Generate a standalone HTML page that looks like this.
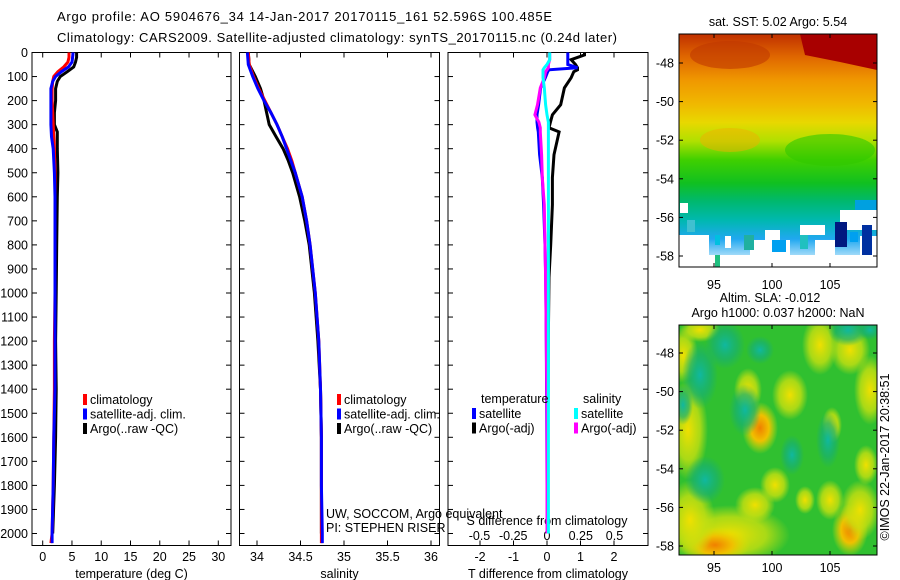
<!DOCTYPE html>
<html><head><meta charset="utf-8">
<style>
html,body{margin:0;padding:0;background:#fff;}
svg{display:block;font-family:"Liberation Sans",sans-serif;}
text{fill:#000;}
</style></head>
<body>
<svg id="fig" width="900" height="580" viewBox="0 0 900 580" xmlns="http://www.w3.org/2000/svg">
<defs>
<linearGradient id="sstg" x1="0" y1="0" x2="0" y2="1">
<stop offset="0" stop-color="#c03000"/>
<stop offset="0.1" stop-color="#e06800"/>
<stop offset="0.2" stop-color="#f09800"/>
<stop offset="0.3" stop-color="#f0b800"/>
<stop offset="0.38" stop-color="#e8d800"/>
<stop offset="0.46" stop-color="#b0e000"/>
<stop offset="0.54" stop-color="#40d000"/>
<stop offset="0.64" stop-color="#10c020"/>
<stop offset="0.72" stop-color="#00b870"/>
<stop offset="0.8" stop-color="#00b8b0"/>
<stop offset="0.88" stop-color="#20a8f0"/>
<stop offset="1" stop-color="#ffffff"/>
</linearGradient>
<radialGradient id="by"><stop offset="0" stop-color="#f0e000"/><stop offset="0.6" stop-color="#c8e010" stop-opacity="0.8"/><stop offset="1" stop-color="#c8e010" stop-opacity="0"/></radialGradient>
<radialGradient id="bo"><stop offset="0" stop-color="#f08000"/><stop offset="0.5" stop-color="#f0c000"/><stop offset="1" stop-color="#e0e000" stop-opacity="0"/></radialGradient>
<radialGradient id="bt"><stop offset="0" stop-color="#10b8a0"/><stop offset="0.6" stop-color="#18b070" stop-opacity="0.7"/><stop offset="1" stop-color="#18b070" stop-opacity="0"/></radialGradient>
<clipPath id="m2clip"><rect x="679" y="325" width="198" height="230"/></clipPath>
<clipPath id="m1clip"><rect x="679" y="34" width="198" height="233"/></clipPath>
</defs>
<text x="57" y="21" font-size="13" textLength="495">Argo profile: AO 5904676_34 14-Jan-2017 20170115_161 52.596S 100.485E</text>
<text x="57" y="42" font-size="13" textLength="560">Climatology: CARS2009. Satellite-adjusted climatology: synTS_20170115.nc (0.24d later)</text>
<g id="panels"></g>
<g id="maps"></g>
</svg>
<script>
// ---- shared depth axis ----
const depthTicks = [0,100,200,300,400,500,600,700,800,900,1000,1100,1200,1300,1400,1500,1600,1700,1800,1900,2000];
// ---- temperature panel data ----
const tDepth = [0,20,40,60,80,100,120,150,200,250,300,350,400,500,600,800,1000,1200,1400,1600,1800,2000,2040];
const tClim  = [4.5,4.5,4.3,3.6,2.6,1.9,1.7,1.6,1.6,1.7,1.8,1.9,2.0,2.1,2.1,2.1,2.1,2.0,2.0,1.9,1.8,1.6,1.4];
const tSat   = [5.2,5.1,5.0,4.4,3.2,2.2,1.7,1.4,1.4,1.4,1.4,1.5,1.8,2.0,2.1,2.1,2.1,2.1,2.1,1.9,1.8,1.6,1.6];
const tArgo  = [5.8,5.8,5.6,5.3,4.2,3.0,2.5,2.2,2.2,2.0,2.0,2.5,2.5,2.6,2.5,2.4,2.3,2.2,2.3,2.2,2.0,1.7];
const tArgoDepth = [0,20,40,60,80,100,120,150,200,250,300,330,400,500,600,800,1000,1200,1400,1600,1800,2000];
const tTicks = [0,5,10,15,20,25,30];
// ---- salinity panel data ----
const sDepth = [0,50,100,150,200,250,300,350,400,450,500,600,700,800,900,1000,1200,1400,1600,1800,2000,2040];
const sClim  = [33.90,33.91,33.96,34.02,34.09,34.16,34.23,34.29,34.35,34.40,34.44,34.52,34.57,34.61,34.64,34.67,34.71,34.73,34.74,34.74,34.74,34.74];
const sSat   = [33.89,33.90,33.95,34.01,34.08,34.16,34.23,34.29,34.34,34.39,34.44,34.52,34.57,34.61,34.64,34.67,34.71,34.73,34.74,34.74,34.75,34.75];
const sArgo  = [33.90,33.91,33.98,34.04,34.08,34.11,34.14,34.22,34.30,34.36,34.41,34.49,34.55,34.60,34.63,34.66,34.70,34.73,34.74,34.74,34.74];
const sArgoDepth = [0,50,100,150,200,250,300,350,400,450,500,600,700,800,900,1000,1200,1400,1600,1800,2000];
const sTicks = [34,34.5,35,35.5,36];
const sTickLabels = ["34","34.5","35","35.5","36"];
// ---- difference panel data ----
const dDepth = [0,10,30,50,63,72,80,105,147,217,259,290,313,330,425,520,633,800,935,1200,1500,1800,2000];
const dTArgo = [1.12,1.12,0.72,0.85,0.91,0.91,0.8,0.72,0.52,0.41,0.16,0.1,0.06,0.36,0.21,0.16,0.16,0.11,0.06,0.04,0.03,0.02,0.02];
const dTSat  = [0.62,0.62,0.62,0.62,0.91,0.06,0.02,-0.05,-0.19,-0.25,-0.3,-0.3,-0.28,-0.26,-0.22,-0.14,-0.1,-0.06,-0.04,-0.02,-0.01,0,0];
const dSSat  = [0.02,0.02,0.02,0.0,-0.02,-0.03,-0.03,-0.03,-0.02,-0.01,0.0,0.01,0.01,0.01,0.01,0.01,0.01,0.01,0.01,0.01,0.01,0.01,0.01];
const dSArgo = [0.02,0.02,0.02,0.01,0.01,0.0,-0.01,-0.02,-0.05,-0.07,-0.09,-0.06,-0.05,-0.05,-0.04,-0.035,-0.02,-0.015,-0.01,-0.005,0,0,0];
const dTTicks = [-2,-1,0,1,2];
const dSTicks = [-0.5,-0.25,0,0.25,0.5];
const dSTickLabels = ["-0.5","-0.25","0","0.25","0.5"];
// ---- map axes ----
const latTicks = [-48,-50,-52,-54,-56,-58];
const lonTicks = [95,100,105];

const NS = "http://www.w3.org/2000/svg";
const panels = document.getElementById('panels');
const maps = document.getElementById('maps');
function mk(tag, attrs, parent){ const e=document.createElementNS(NS,tag); for(const k in attrs) e.setAttribute(k,attrs[k]); parent.appendChild(e); return e; }
function txt(x,y,s,size,anchor,parent){ const t=mk('text',{x:x,y:y,'font-size':size,'text-anchor':anchor||'start'},parent); t.textContent=s; return t; }

const Y0=52.5, KY=0.2405, YB=545.5;
const yD = d => Y0 + d*KY;

function panel(name,x0,x1,xs,ticks,labels,title,showDepth){
  const g=mk('g',{},panels);
  
  
  const r=mk('rect',{x:x0,y:Y0,width:x1-x0,height:YB-Y0,fill:'none',stroke:'#000','stroke-width':1},g);
  
  
  ticks.forEach((v,i)=>{
    const x=xs(v);
    mk('line',{x1:x,x2:x,y1:YB,y2:YB-5,stroke:'#000'},g);
    mk('line',{x1:x,x2:x,y1:Y0,y2:Y0+5,stroke:'#000'},g);
    if(labels){ const t=txt(x,561,labels[i],12.5,'middle',g);
      
       }
  });
  depthTicks.forEach(d=>{
    const y=yD(d);
    mk('line',{x1:x0,x2:x0+5,y1:y,y2:y,stroke:'#000'},g);
    mk('line',{x1:x1,x2:x1-5,y1:y,y2:y,stroke:'#000'},g);
    if(showDepth){ const t=txt(28,y+4.5,String(d),12.5,'end',g);
      
       }
  });
  const tt=txt((x0+x1)/2,578,title,12.5,'middle',g);
  
  
  return g;
}
function line(g,depths,vals,xs,color,w,name){
  const pts=vals.map((v,i)=>xs(v).toFixed(1)+','+yD(depths[i]).toFixed(1)).join(' ');
  const p=mk('polyline',{points:pts,fill:'none',stroke:color,'stroke-width':w,'stroke-linejoin':'miter'},g);
  
  
}
function legend(g,x,y,items){
  items.forEach((it,i)=>{
    const yy=y+i*14.5;
    mk('rect',{x:x,y:yy-5,width:4,height:11,fill:it[0]},g);
    const t=txt(x+7,yy+5,it[1],12.5,'start',g);
    
    
  });
}

// temperature
const xT = v => 42.7 + v*5.853;
const gT = panel('temperature',32,231,xT,tTicks,tTicks.map(String),'temperature (deg C)',true);
line(gT,tArgoDepth,tArgo,xT,'#000',3,'temp-argo-line');
line(gT,tDepth,tClim,xT,'#f00',3,'temp-climatology-line');
line(gT,tDepth,tSat,xT,'#00f',3,'temp-satellite-line');
legend(gT,83,399,[['#f00','climatology'],['#00f','satellite-adj. clim.'],['#000','Argo(..raw -QC)']]);

// salinity
const xS = v => 257 + (v-34)*87;
const gS = panel('salinity',239.5,439.5,xS,sTicks,sTickLabels,'salinity',false);
line(gS,sArgoDepth,sArgo,xS,'#000',3,'sal-argo-line');
line(gS,sDepth,sClim,xS,'#f00',3,'sal-climatology-line');
line(gS,sDepth,sSat,xS,'#00f',3,'sal-satellite-line');
legend(gS,337,399,[['#f00','climatology'],['#00f','satellite-adj. clim.'],['#000','Argo(..raw -QC)']]);
let t1=txt(326,518,'UW, SOCCOM, Argo equivalent',12.5,'start',panels);
 
let t2=txt(326,532,'PI: STEPHEN RISER',12.5,'start',panels);
 

// differences
const xDT = v => 547 + v*33.5;
const xDS = v => 547 + v*135;
const gD = panel('difference',448,648,xDT,dTTicks,dTTicks.map(String),'T difference from climatology',false);
dSTicks.forEach((v,i)=>{
  const t=txt(xDS(v),540,dSTickLabels[i],12.5,'middle',gD);
  
  
});
let st=txt(547,525,'S difference from climatology',12.5,'middle',gD);
 
line(gD,dDepth,dTArgo,xDT,'#000',3,'tdiff-argo-line');
line(gD,dDepth,dTSat,xDT,'#00f',3,'tdiff-satellite-line');
line(gD,dDepth,dSArgo,xDS,'#f0f',3,'sdiff-argo-line');
line(gD,dDepth,dSSat,xDS,'#0ff',3,'sdiff-satellite-line');
txt(481,403,'temperature',12.5,'start',gD);
txt(583,403,'salinity',12.5,'start',gD);
legend(gD,472,413,[['#00f','satellite'],['#000','Argo(-adj)']]);
legend(gD,574,413,[['#0ff','satellite'],['#f0f','Argo(-adj)']]);

// maps
function mapAxes(y0,y1,latY,lonLabelY,name){
  const g=mk('g',{},maps);
  
  
  mk('rect',{x:679,y:y0,width:198,height:y1-y0,fill:'none',stroke:'#000'},g);
  latTicks.forEach(l=>{
    const y=latY(l);
    mk('line',{x1:679,x2:683,y1:y,y2:y,stroke:'#000'},g);
    mk('line',{x1:877,x2:873,y1:y,y2:y,stroke:'#000'},g);
    const t=txt(674,y+4.5,String(l),12.5,'end',g);
     
  });
  lonTicks.forEach(l=>{
    const x=714+(l-95)*11.6;
    mk('line',{x1:x,x2:x,y1:y1,y2:y1-4,stroke:'#000'},g);
    mk('line',{x1:x,x2:x,y1:y0,y2:y0+4,stroke:'#000'},g);
    const t=txt(x,lonLabelY,String(l),12.5,'middle',g);
     
  });
}
// SST map background
const m1=mk('g',{'clip-path':'url(#m1clip)'},maps);
 
mk('rect',{x:679,y:34,width:198,height:233,fill:'url(#sstg)'},m1);
mk('polygon',{points:'800,34 877,34 877,70 840,62 805,55',fill:'#a80000'},m1);
mk('ellipse',{cx:730,cy:55,rx:40,ry:14,fill:'#c03800','fill-opacity':0.6},m1);
mk('ellipse',{cx:830,cy:150,rx:45,ry:16,fill:'#30c800','fill-opacity':0.6},m1);
mk('ellipse',{cx:730,cy:140,rx:30,ry:12,fill:'#f0b000','fill-opacity':0.5},m1);
[[679,235,30,32],[680,203,8,10],[725,236,6,12],[750,240,40,27],[765,230,15,12],[800,225,25,10],[815,240,20,27],[840,210,37,20],[700,255,160,12],[860,236,17,31]].forEach(r=>mk('rect',{x:r[0],y:r[1],width:r[2],height:r[3],fill:'#fff'},m1));
[[687,220,8,12,'#40c0d0'],[715,255,5,12,'#20c080'],[715,235,5,10,'#00c0e0'],[835,222,12,25,'#001880'],[862,225,10,30,'#0030a0'],[850,232,8,10,'#00a0f0'],[772,240,14,12,'#00a0f0'],[744,235,10,15,'#20b0a0'],[800,235,8,14,'#20c0c0'],[855,200,22,10,'#00a0e0']].forEach(r=>mk('rect',{x:r[0],y:r[1],width:r[2],height:r[3],fill:r[4]},m1));
mapAxes(34,267,l=>63+(-48-l)*19.3,289,'sst-map-axes');
let s1=txt(778,26,'sat. SST: 5.02 Argo: 5.54',12.5,'middle',maps);
 
let s2=txt(770,302,'Altim. SLA: -0.012',12.5,'middle',maps);
 
let s3=txt(778,317,'Argo h1000: 0.037 h2000: NaN',12.5,'middle',maps);
 
// SLA map
const m2=mk('g',{'clip-path':'url(#m2clip)'},maps);
 
mk('rect',{x:679,y:325,width:198,height:230,fill:'#30c030'},m2);
[[730,535,60,30,'by'],[715,545,35,18,'bo'],[690,520,25,40,'by'],[755,505,20,18,'by'],[790,395,18,25,'by'],[760,428,18,26,'bo'],[820,345,18,30,'by'],[850,350,20,25,'by'],[775,485,15,18,'by'],[850,530,18,26,'bo'],[860,510,20,30,'by'],[688,430,20,50,'by'],[683,355,15,28,'by'],[830,500,14,20,'by'],[870,390,16,35,'by'],[748,390,14,22,'by'],[832,425,10,18,'by'],[805,500,10,14,'by'],[700,330,20,12,'by'],[866,465,12,20,'by'],
 [700,375,18,34,'bt'],[725,345,20,24,'bt'],[745,410,16,26,'bt'],[705,480,20,24,'bt'],[828,440,12,28,'bt'],[848,330,20,16,'bt'],[683,405,10,20,'bt'],[792,455,12,20,'bt'],[760,350,14,14,'bt'],[870,330,12,10,'bt']].forEach(b=>mk('ellipse',{cx:b[0],cy:b[1],rx:b[2],ry:b[3],fill:'url(#'+b[4]+')'},m2));
mapAxes(325,555,l=>353+(-48-l)*19.3,572,'sla-map-axes');
let c=txt(0,0,'©IMOS 22-Jan-2017 20:38:51',12.5,'middle',maps);
c.setAttribute('transform','translate(889,457) rotate(-90)');
 
</script>
</body></html>
